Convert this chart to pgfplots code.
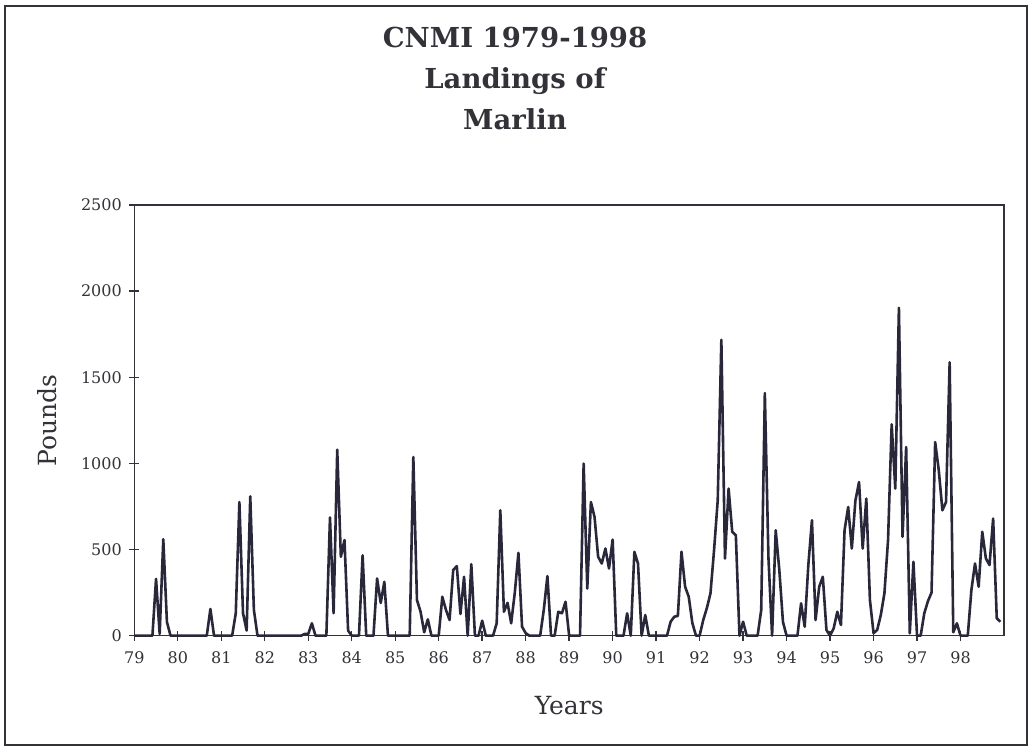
\documentclass[border=0pt]{standalone}
\usepackage{fontspec}
\setmainfont{DejaVu Serif}
\usepackage{pgfplots}
\pgfplotsset{compat=1.18}
\definecolor{axcol}{RGB}{50,50,56}
\definecolor{linecol}{RGB}{40,40,58}
\pgfplotstableread{
i v
0 0
1 0
2 0
3 0
4 0
5 0
6 330
7 10
8 560
9 80
10 0
11 0
12 0
13 0
14 0
15 0
16 0
17 0
18 0
19 0
20 0
21 155
22 0
23 0
24 0
25 0
26 0
27 0
28 130
29 776
30 130
31 30
32 809
33 150
34 0
35 0
36 0
37 0
38 0
39 0
40 0
41 0
42 0
43 0
44 0
45 0
46 0
47 10
48 10
49 72
50 0
51 0
52 0
53 0
54 686
55 130
56 1080
57 458
58 555
59 30
60 0
61 0
62 0
63 467
64 0
65 0
66 0
67 332
68 190
69 313
70 0
71 0
72 0
73 0
74 0
75 0
76 0
77 1037
78 207
79 139
80 20
81 95
82 0
83 0
84 0
85 226
86 150
87 91
88 381
89 404
90 126
91 342
92 0
93 415
94 0
95 0
96 87
97 0
98 0
99 0
100 72
101 728
102 139
103 191
104 72
105 250
106 481
107 52
108 15
109 0
110 0
111 0
112 0
113 150
114 346
115 0
116 0
117 139
118 130
119 197
120 0
121 0
122 0
123 0
124 999
125 274
126 776
127 690
128 458
129 419
130 506
131 390
132 558
133 0
134 0
135 0
136 130
137 0
138 487
139 419
140 0
141 120
142 0
143 0
144 0
145 0
146 0
147 0
148 81
149 110
150 115
151 487
152 284
153 226
154 73
155 0
156 0
157 91
158 160
159 246
160 500
161 786
162 1717
163 448
164 854
165 603
166 583
167 0
168 81
169 0
170 0
171 0
172 0
173 149
174 1408
175 450
176 0
177 612
178 380
179 80
180 0
181 0
182 0
183 0
184 188
185 52
186 410
187 670
188 91
189 284
190 342
191 33
192 0
193 43
194 139
195 62
196 612
197 747
198 506
199 786
200 892
201 506
202 796
203 207
204 15
205 33
206 120
207 246
208 555
209 1227
210 854
211 1903
212 574
213 1095
214 14
215 429
216 0
217 0
218 130
219 200
220 250
221 1124
222 960
223 728
224 776
225 1587
226 20
227 72
228 0
229 0
230 0
231 265
232 419
233 284
234 603
235 448
236 410
237 680
238 101
239 81
}\marlin
\begin{document}
\begin{tikzpicture}[x=1pt,y=1pt]
\useasboundingbox (0,0) rectangle (1030,749);
\draw[axcol, line width=1.6pt] (5,4) rectangle (1027,743);
\node[font=\fontsize{27.5}{41}\selectfont\bfseries, align=center, text=axcol] at (515,671) {CNMI 1979-1998\\Landings of\\Marlin};
\begin{axis}[
  at={(134.3pt,113.3pt)}, anchor=south west,
  width=869.7pt, height=430.7pt, scale only axis,
  xmin=0, xmax=240, ymin=0, ymax=2500,
  xtick={0,12,...,228},
  xticklabels={79,80,81,82,83,84,85,86,87,88,89,90,91,92,93,94,95,96,97,98},
  ytick={0,500,1000,1500,2000,2500},
  tick align=center, xtick pos=bottom, ytick pos=left,
  major tick length=10pt,
  axis line style={axcol, line width=1.6pt},
  tick style={axcol, line width=1.4pt},
  ticklabel style={font=\fontsize{16}{18}\selectfont, text=axcol},
  xticklabel style={yshift=-7pt},
  yticklabel style={xshift=-4pt},
  /pgf/number format/assume math mode=true,
  /pgf/number format/set thousands separator={},
  xlabel={Years}, ylabel={Pounds},
  label style={font=\fontsize{25}{28}\selectfont, text=axcol},
  xlabel style={at={(axis description cs:0.5,-0.163)}, anchor=center},
  ylabel style={at={(axis description cs:-0.1004,0.5)}, anchor=center},
  clip=false,
]
\addplot[linecol, line width=2.6pt, line join=round, mark=none] table[x=i, y=v] {\marlin};
\end{axis}
\end{tikzpicture}
\end{document}
